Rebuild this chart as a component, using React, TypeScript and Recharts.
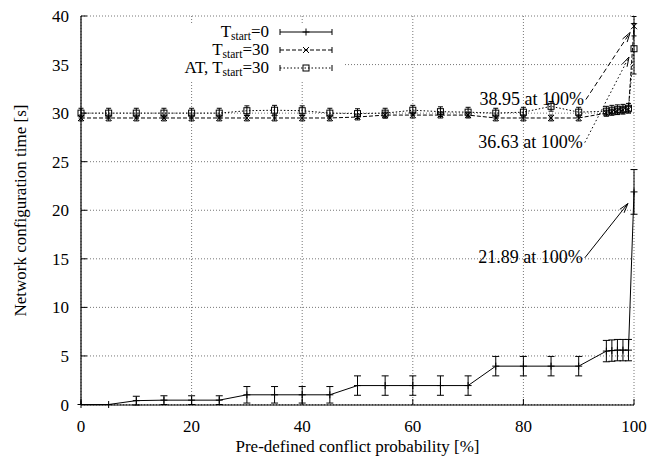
import React from 'react';
import {
  LineChart,
  Line,
  XAxis,
  YAxis,
  CartesianGrid,
  ErrorBar,
  ReferenceLine,
  Legend,
} from 'recharts';

// Pre-defined conflict probability [%]
const probability = [0, 5, 10, 15, 20, 25, 30, 35, 40, 45, 50, 55, 60, 65, 70, 75, 80, 85, 90, 95, 96, 97, 98, 99, 100];

// T_start = 0
const tStart0 = [0, 0, 0.4, 0.45, 0.45, 0.45, 1.0, 1.0, 1.0, 1.0, 1.95, 1.95, 1.95, 1.95, 1.95, 3.95, 3.95, 3.95, 3.95, 5.5, 5.55, 5.6, 5.6, 5.6, 21.89];
const tStart0Err = [0, 0, 0.45, 0.45, 0.45, 0.45, 0.85, 0.85, 0.85, 0.85, 1.0, 1.0, 1.0, 1.0, 1.0, 1.0, 1.0, 1.0, 1.0, 1.1, 1.1, 1.1, 1.1, 1.1, 2.3];

// T_start = 30
const tStart30 = [29.5, 29.5, 29.5, 29.5, 29.5, 29.5, 29.5, 29.5, 29.5, 29.5, 29.6, 29.8, 29.8, 29.8, 29.8, 29.5, 29.5, 29.5, 29.5, 30.0, 30.1, 30.2, 30.3, 30.4, 38.95];
const tStart30Err = [0.3, 0.3, 0.3, 0.3, 0.3, 0.3, 0.3, 0.3, 0.3, 0.3, 0.3, 0.3, 0.3, 0.3, 0.3, 0.3, 0.3, 0.3, 0.3, 0.3, 0.3, 0.3, 0.3, 0.3, 1.0];

// AT, T_start = 30
const adaptive30 = [30.0, 30.0, 30.0, 30.0, 30.0, 30.0, 30.25, 30.3, 30.25, 30.0, 29.95, 30.0, 30.3, 30.15, 30.1, 30.0, 30.1, 30.7, 30.1, 30.2, 30.3, 30.35, 30.4, 30.5, 36.63];
const adaptive30Err = [0.5, 0.5, 0.5, 0.5, 0.5, 0.5, 0.5, 0.5, 0.5, 0.5, 0.5, 0.5, 0.5, 0.5, 0.5, 0.5, 0.5, 0.5, 0.5, 0.5, 0.5, 0.5, 0.5, 0.5, 2.6];

const xTicks = [0, 20, 40, 60, 80, 100];
const yTicks = [0, 5, 10, 15, 20, 25, 30, 35, 40];

const FONT = '"Liberation Serif", "DejaVu Serif", serif';

const rows = probability.map((p, i) => ({
  p,
  t0: tStart0[i],
  t0e: tStart0Err[i],
  t30: tStart30[i],
  t30e: tStart30Err[i],
  at30: adaptive30[i],
  at30e: adaptive30Err[i],
}));

const last = probability.length - 1;

// Callouts for the values reached at 100 %
const callouts = [
  { value: tStart30[last], tail: { x: 91.3, y: 31.4 }, headX: 99.3, drop: 0.65, dash: '5 3' },
  { value: adaptive30[last], tail: { x: 91.1, y: 26.97 }, headX: 99.1, drop: 0.85, dash: '1.5 2.5' },
  { value: tStart0[last], tail: { x: 91.1, y: 15.1 }, headX: 98.9, drop: 1.2, dash: undefined },
];

const PlusDot = (props: any) => {
  const { cx, cy, index } = props;
  if (cx == null || cy == null) return <g key={`p${index}`} />;
  return (
    <g key={`p${index}`}>
      <line x1={cx - 3.5} y1={cy} x2={cx + 3.5} y2={cy} stroke="#000" strokeWidth={1} />
      <line x1={cx} y1={cy - 3.5} x2={cx} y2={cy + 3.5} stroke="#000" strokeWidth={1} />
    </g>
  );
};

const CrossDot = (props: any) => {
  const { cx, cy, index } = props;
  if (cx == null || cy == null) return <g key={`x${index}`} />;
  return (
    <g key={`x${index}`}>
      <line x1={cx - 3} y1={cy - 3} x2={cx + 3} y2={cy + 3} stroke="#000" strokeWidth={1} />
      <line x1={cx - 3} y1={cy + 3} x2={cx + 3} y2={cy - 3} stroke="#000" strokeWidth={1} />
    </g>
  );
};

const SquareDot = (props: any) => {
  const { cx, cy, index } = props;
  if (cx == null || cy == null) return <g key={`s${index}`} />;
  return (
    <rect key={`s${index}`} x={cx - 3} y={cy - 3} width={6} height={6} fill="none" stroke="#000" strokeWidth={1} />
  );
};

const arrowShape = (text: string, dash?: string) => (props: any) => {
  const { x1, y1, x2, y2 } = props;
  if ([x1, y1, x2, y2].some((v) => v == null || Number.isNaN(v))) return <g />;
  const ang = Math.atan2(y2 - y1, x2 - x1);
  const len = 10;
  const spread = 0.28;
  const ax = x2 - len * Math.cos(ang - spread);
  const ay = y2 - len * Math.sin(ang - spread);
  const bx = x2 - len * Math.cos(ang + spread);
  const by = y2 - len * Math.sin(ang + spread);
  return (
    <g>
      <line x1={x1} y1={y1} x2={x2} y2={y2} stroke="#000" strokeWidth={1} strokeDasharray={dash} />
      <path d={`M${ax},${ay} L${x2},${y2} L${bx},${by}`} fill="none" stroke="#000" strokeWidth={1} />
      <text x={x1 - 2} y={y1 + 5} textAnchor="end" fontFamily={FONT} fontSize={18} fill="#000">
        {text}
      </text>
    </g>
  );
};

const legendRows = [
  { prefix: 'T', suffix: '=0', dash: undefined as string | undefined, marker: 'plus' },
  { prefix: 'T', suffix: '=30', dash: '4 2', marker: 'cross' },
  { prefix: 'AT, T', suffix: '=30', dash: '1.5 2', marker: 'square' },
];

const KeyBox = () => {
  const rowY = [9, 27, 45];
  const textRight = 187;
  const s0 = 198;
  const s1 = 250;
  const mid = 224;
  return (
    <svg width={261} height={58} style={{ display: 'block', background: '#fff' }}>
      <rect x={0} y={0} width={261} height={58} fill="#fff" />
      {legendRows.map((r, i) => {
        const y = rowY[i];
        return (
          <g key={i}>
            <text x={textRight} y={y + 5} textAnchor="end" fontFamily={FONT} fontSize={17} fill="#000">
              {r.prefix}
              <tspan fontSize={11.5} dy={3}>start</tspan>
              <tspan dy={-3}>{r.suffix}</tspan>
            </text>
            <line x1={s0} y1={y} x2={s1} y2={y} stroke="#000" strokeWidth={1} strokeDasharray={r.dash} />
            <line x1={s0} y1={y - 3} x2={s0} y2={y + 3} stroke="#000" strokeWidth={1} />
            <line x1={s1} y1={y - 3} x2={s1} y2={y + 3} stroke="#000" strokeWidth={1} />
            {r.marker === 'plus' && <PlusDot cx={mid} cy={y} index={i} />}
            {r.marker === 'cross' && <CrossDot cx={mid} cy={y} index={i} />}
            {r.marker === 'square' && <SquareDot cx={mid} cy={y} index={i} />}
          </g>
        );
      })}
    </svg>
  );
};

const tickStyle = { fontFamily: FONT, fontSize: 17, fill: '#000' };

export default function App() {
  return (
    <div style={{ position: 'absolute', left: 0, top: 0, width: 650, height: 463, background: '#fff' }}>
      <LineChart
        width={650}
        height={463}
        data={rows}
        margin={{ top: 16, right: 16, bottom: 0, left: 0 }}
      >
        <CartesianGrid stroke="#777" strokeDasharray="1 2" strokeWidth={1} />
        <XAxis
          dataKey="p"
          type="number"
          domain={[0, 100]}
          ticks={xTicks}
          height={58}
          tickSize={-6}
          tickMargin={21}
          tick={tickStyle}
          axisLine={{ stroke: '#000', strokeWidth: 1.2 }}
          tickLine={{ stroke: '#000' }}
          label={{
            value: 'Pre-defined conflict probability [%]',
            position: 'insideBottom',
            offset: 11,
            style: { fontFamily: FONT, fontSize: 17, fill: '#000' },
          }}
        />
        <XAxis
          xAxisId="top"
          orientation="top"
          dataKey="p"
          type="number"
          domain={[0, 100]}
          ticks={xTicks}
          height={0}
          tickSize={-6}
          tick={false}
          axisLine={{ stroke: '#000', strokeWidth: 1.2 }}
          tickLine={{ stroke: '#000' }}
        />
        <YAxis
          type="number"
          domain={[0, 40]}
          ticks={yTicks}
          width={81}
          tickSize={-6}
          tickMargin={18}
          tick={tickStyle}
          axisLine={{ stroke: '#000', strokeWidth: 1.2 }}
          tickLine={{ stroke: '#000' }}
          label={{
            value: 'Network configuration time [s]',
            angle: -90,
            position: 'insideLeft',
            offset: 20,
            style: { fontFamily: FONT, fontSize: 17, fill: '#000', textAnchor: 'middle' },
          }}
        />
        <YAxis
          yAxisId="right"
          orientation="right"
          type="number"
          domain={[0, 40]}
          ticks={yTicks}
          width={0}
          tickSize={-6}
          tick={false}
          axisLine={{ stroke: '#000', strokeWidth: 1.2 }}
          tickLine={{ stroke: '#000' }}
        />
        <Legend
          layout="horizontal"
          verticalAlign="middle"
          align="center"
          content={() => <KeyBox />}
          wrapperStyle={{ top: 23, left: 82, width: 261, height: 58 }}
        />
        <Line
          dataKey="t0"
          stroke="#000"
          strokeWidth={1}
          type="linear"
          dot={PlusDot}
          isAnimationActive={false}
          legendType="none"
        >
          <ErrorBar dataKey="t0e" direction="y" width={3.5} stroke="#000" strokeWidth={1} />
        </Line>
        <Line
          dataKey="t30"
          stroke="#000"
          strokeWidth={1}
          strokeDasharray="4 2"
          type="linear"
          dot={CrossDot}
          isAnimationActive={false}
          legendType="none"
        >
          <ErrorBar dataKey="t30e" direction="y" width={2.5} stroke="#000" strokeWidth={1} />
        </Line>
        <Line
          dataKey="at30"
          stroke="#000"
          strokeWidth={1}
          strokeDasharray="1.5 2"
          type="linear"
          dot={SquareDot}
          isAnimationActive={false}
          legendType="none"
        >
          <ErrorBar dataKey="at30e" direction="y" width={2.5} stroke="#000" strokeWidth={1} />
        </Line>
        {callouts.map((c, i) => (
          <ReferenceLine
            key={`c${i}`}
            segment={[
              { x: c.tail.x, y: c.tail.y },
              { x: c.headX, y: c.value - c.drop },
            ]}
            shape={arrowShape(`${c.value.toFixed(2)} at 100%`, c.dash)}
          />
        ))}
      </LineChart>
    </div>
  );
}
